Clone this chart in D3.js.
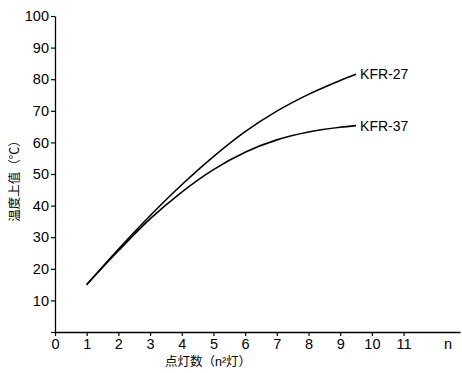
<!DOCTYPE html>
<html><head><meta charset="utf-8">
<script src="https://cdn.jsdelivr.net/npm/d3@7"></script>
<style>
body{margin:0;background:#fff;}
text{font-family:"Liberation Sans",Arial,"Noto Sans CJK SC",sans-serif;fill:#000;}
</style></head><body>
<svg id="c" width="462" height="373"></svg>
<script>
const xValues = [1, 2, 3, 4, 5, 6, 7, 8, 9, 9.5];
const kfr27 = [15, 26.2, 36.8, 46.6, 55.5, 63.4, 69.9, 75.2, 79.6, 81.6];
const kfr37 = [15, 25.7, 35.8, 44.3, 51.4, 56.9, 60.8, 63.3, 64.8, 65.3];
const seriesNames = ["KFR-27", "KFR-37"];
const xTicks = [0, 1, 2, 3, 4, 5, 6, 7, 8, 9, 10, 11];
const yTicks = [0, 10, 20, 30, 40, 50, 60, 70, 80, 90, 100];
const xTitle = "点灯数（n²灯）";
const yTitle = "温度上值（℃）";
const xEndLabel = "n";

const svg = d3.select("#c");
const x = d3.scaleLinear().domain([0, 12.78]).range([55, 460]);
const y = d3.scaleLinear().domain([0, 100]).range([332, 16]);

const xa = svg.append("g").attr("transform", "translate(0,332)")
  .call(d3.axisBottom(x).tickValues(xTicks).tickSize(4).tickSizeOuter(0).tickPadding(3));
const ya = svg.append("g").attr("transform", "translate(55,0)")
  .call(d3.axisLeft(y).tickValues(yTicks).tickSize(4).tickSizeOuter(0).tickPadding(2)
    .tickFormat(d => d === 0 ? "" : d));
[xa, ya].forEach(g => {
  g.select(".domain").attr("stroke", "#000").attr("stroke-width", 1.3);
  g.selectAll(".tick line").attr("stroke", "#000").attr("stroke-width", 1.2);
  g.selectAll("text").attr("fill", "#000").attr("font-size", 14.5).attr("font-family", "'Liberation Sans',Arial,sans-serif");
});
xa.append("text").attr("x", x(12.4)).attr("y", 7).attr("dy", "0.71em")
  .attr("text-anchor", "middle").attr("font-size", 14.5).attr("fill", "#000").text(xEndLabel);

const line = d3.line().x((d, i) => x(xValues[i])).y(d => y(d)).curve(d3.curveMonotoneX);
[kfr27, kfr37].forEach((s, k) => {
  svg.append("path").attr("d", line(s)).attr("fill", "none").attr("stroke", "#000").attr("stroke-width", 1.6);
  svg.append("text").attr("x", x(xValues[xValues.length - 1]) + 4).attr("y", y(s[s.length - 1]))
    .attr("dy", "0.35em").attr("font-size", 14).text(seriesNames[k]);
});

svg.append("text").attr("x", 208).attr("y", 366).attr("text-anchor", "middle")
  .attr("font-size", 12.5).text(xTitle);
svg.append("text").attr("transform", "translate(19,178) rotate(-90)").attr("text-anchor", "middle")
  .attr("font-size", 12.5).text(yTitle);
</script></body></html>
